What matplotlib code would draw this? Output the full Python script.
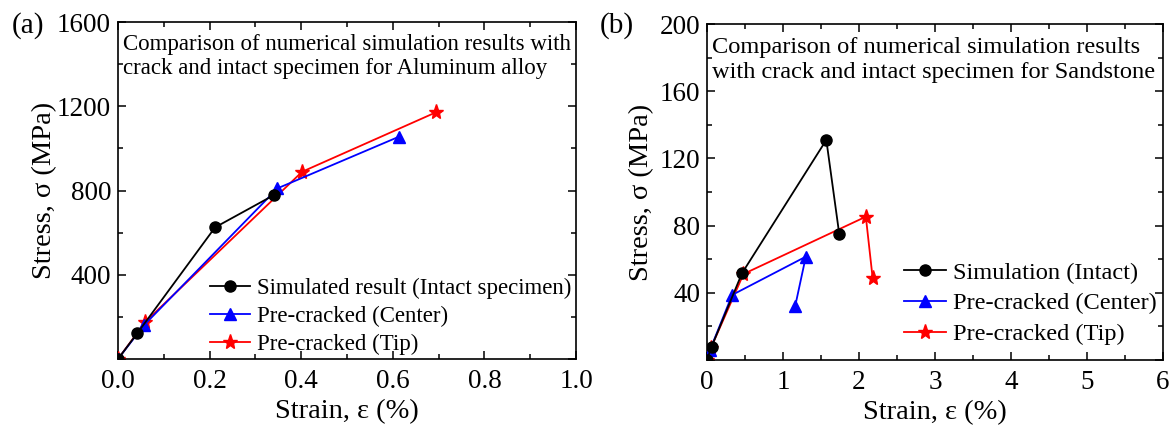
import matplotlib
matplotlib.use("Agg")
import matplotlib.pyplot as plt
from matplotlib.ticker import MultipleLocator

plt.rcParams['font.family'] = ['Liberation Serif', 'DejaVu Serif']

# Panel (a) Aluminum alloy
a_intact_x = [0.0, 0.042, 0.212, 0.341]
a_intact_y = [0, 122, 625, 779]
a_center_x = [0.0, 0.057, 0.348, 0.613]
a_center_y = [0, 161, 810, 1055]
a_tip_x = [0.0, 0.060, 0.402, 0.694]
a_tip_y = [0, 177, 889, 1171]

# Panel (b) Sandstone
b_intact_x = [0.0, 0.06, 0.46, 1.57, 1.74]
b_intact_y = [0, 7.9, 51.6, 131, 75]
b_center_x = [0.0, 0.04, 0.33, 1.30, 1.16]
b_center_y = [0, 6, 38.7, 61.5, 32]
b_tip_x = [0.0, 0.05, 0.48, 2.09, 2.18]
b_tip_y = [0, 7, 51.2, 85.3, 48.6]

a_xticks = [0, 0.2, 0.4, 0.6, 0.8, 1.0]
a_xticklabels = ['0.0', '0.2', '0.4', '0.6', '0.8', '1.0']
a_yticks = [0, 400, 800, 1200, 1600]
a_yticklabels = ['', '400', '800', '1200', '1600']
b_xticks = [0, 1, 2, 3, 4, 5, 6]
b_yticks = [0, 40, 80, 120, 160, 200]
b_yticklabels = ['', '40', '80', '120', '160', '200']

W, H = 1176, 428
fig = plt.figure(figsize=(W/100, H/100), dpi=100)
axa = fig.add_axes([118/W, (H-359)/H, 458/W, 337/H])
axb = fig.add_axes([707/W, (H-360)/H, 456/W, 336/H])

TICK = 19.5
LAB = 20.5
TXT_A = 16.5
TXT_B = 17.6

def style(ax):
    ax.tick_params(which='both', direction='in', top=True, right=True, labelsize=TICK, width=1.1)
    ax.tick_params(which='major', length=6)
    ax.tick_params(axis='x', which='major', pad=7)
    ax.tick_params(axis='y', which='major', pad=5)
    ax.tick_params(which='minor', length=3.5)
    for s in ax.spines.values():
        s.set_linewidth(1.2)

lw = 1.3
axa.plot(a_intact_x, a_intact_y, '-o', color='black', lw=lw, ms=8, label='Simulated result (Intact specimen)', zorder=5)
axa.plot(a_center_x, a_center_y, '-^', color='blue', lw=lw, ms=9, label='Pre-cracked (Center)', zorder=4)
axa.plot(a_tip_x, a_tip_y, '-*', color='red', lw=lw, ms=11, label='Pre-cracked (Tip)', zorder=3)
axa.set_xlim(0, 1.0)
axa.set_ylim(0, 1600)
axa.set_xticks(a_xticks)
axa.set_xticklabels(a_xticklabels)
axa.xaxis.set_minor_locator(MultipleLocator(0.1))
axa.set_yticks(a_yticks)
axa.set_yticklabels(a_yticklabels)
axa.yaxis.set_minor_locator(MultipleLocator(200))
style(axa)
axa.set_xlabel('Strain, ε (%)', fontsize=LAB, labelpad=4)
axa.set_ylabel('Stress, σ (MPa)', fontsize=LAB, labelpad=0)
axa.text(0.01, 0.965, 'Comparison of numerical simulation results with\ncrack and intact specimen for Aluminum alloy',
         transform=axa.transAxes, ha='left', va='top', fontsize=TXT_A, linespacing=1.2)
axa.legend(loc='lower right', frameon=False, fontsize=TXT_A, handlelength=1.75, handletextpad=0.3,
           borderaxespad=0.0, labelspacing=0.3, bbox_to_anchor=(1.01, -0.016))
fig.text(12/W, 1-26/H, '(a)', fontsize=21, va='center', ha='left')

axb.plot(b_intact_x, b_intact_y, '-o', color='black', lw=lw, ms=8, label='Simulation (Intact)', zorder=5)
axb.plot(b_center_x, b_center_y, '-^', color='blue', lw=lw, ms=9, label='Pre-cracked (Center)', zorder=4)
axb.plot(b_tip_x, b_tip_y, '-*', color='red', lw=lw, ms=11, label='Pre-cracked (Tip)', zorder=3)
axb.set_xlim(0, 6)
axb.set_ylim(0, 200)
axb.set_xticks(b_xticks)
axb.xaxis.set_minor_locator(MultipleLocator(0.5))
axb.set_yticks(b_yticks)
axb.set_yticklabels(b_yticklabels)
axb.yaxis.set_minor_locator(MultipleLocator(20))
style(axb)
axb.set_xlabel('Strain, ε (%)', fontsize=LAB, labelpad=4)
axb.set_ylabel('Stress, σ (MPa)', fontsize=LAB, labelpad=4)
axb.text(0.012, 0.96, 'Comparison of numerical simulation results\nwith crack and intact specimen for Sandstone',
         transform=axb.transAxes, ha='left', va='top', fontsize=TXT_B, linespacing=1.2)
axb.legend(loc='lower right', frameon=False, fontsize=TXT_B, handlelength=1.7, handletextpad=0.3,
           borderaxespad=0.0, labelspacing=0.35, bbox_to_anchor=(1.008, 0.015))
fig.text(600/W, 1-26/H, '(b)', fontsize=21, va='center', ha='left')

fig.savefig('out.png', dpi=100)
